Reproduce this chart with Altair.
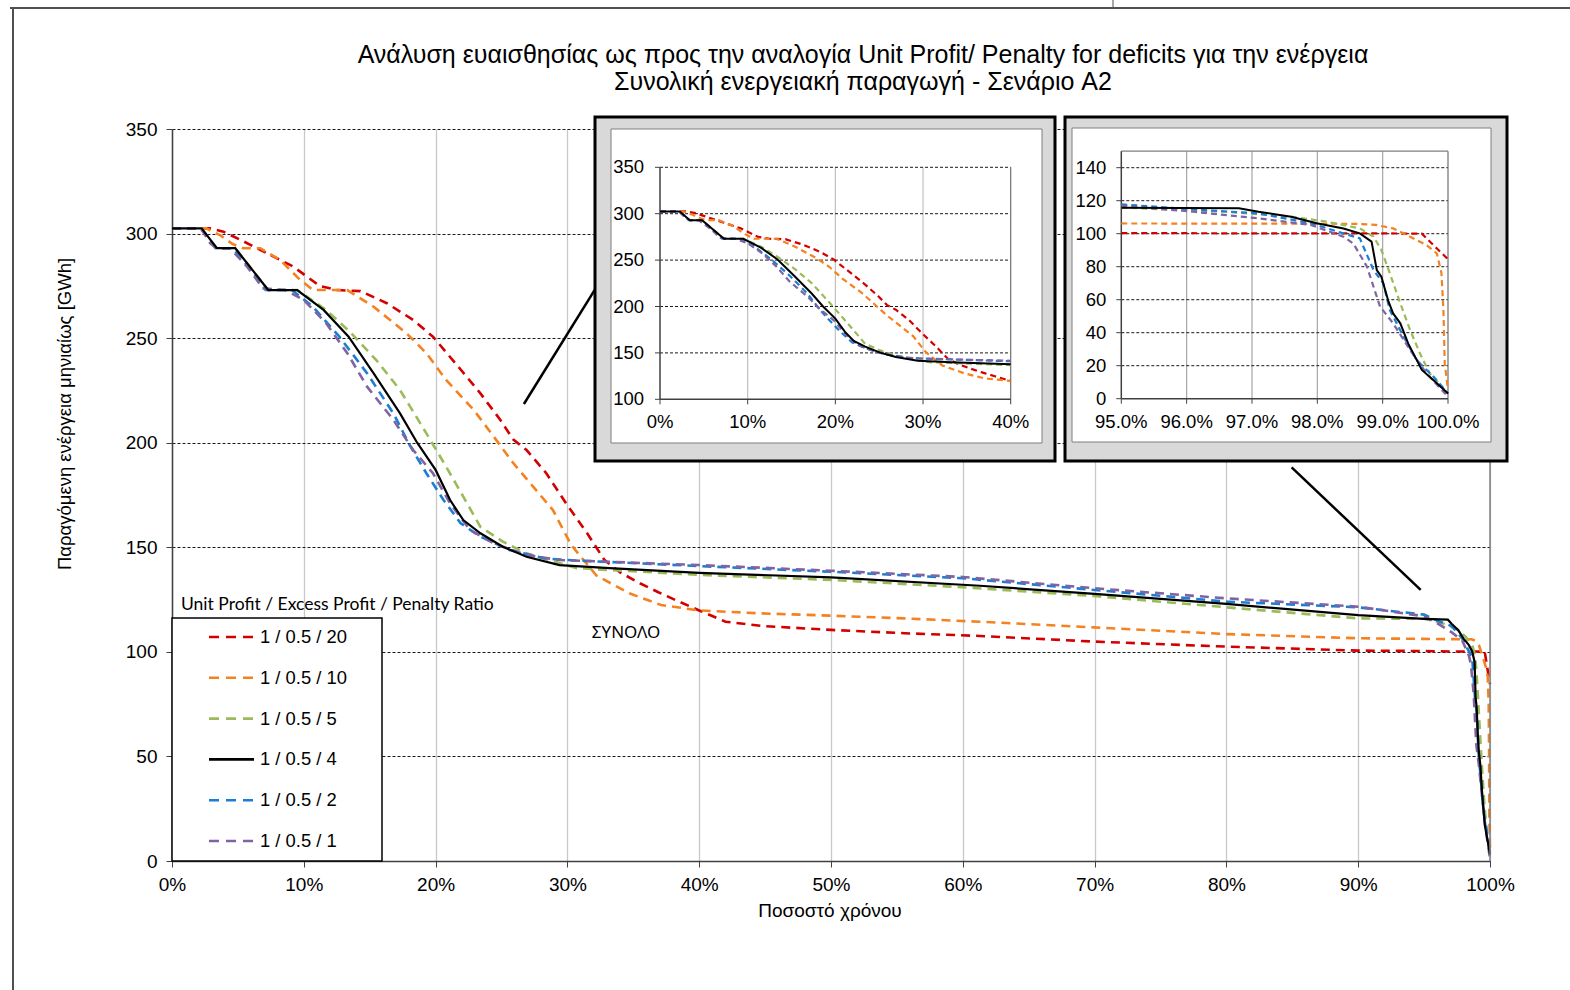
import altair as alt
import pandas as pd

# ---------------- data ----------------
SERIES = ["1 / 0.5 / 20", "1 / 0.5 / 10", "1 / 0.5 / 5", "1 / 0.5 / 4", "1 / 0.5 / 2", "1 / 0.5 / 1"]
COLORS = ["#d40000", "#f58220", "#9bbb59", "#000000", "#1a7fd4", "#8064a2"]
SOLID = "1 / 0.5 / 4"
DRAW_ORDER = [0, 1, 2, 4, 5, 3]

X_20 = [0, 2.9, 3.9, 5.2, 7.2, 9.2, 11.2, 12.5, 14.3, 16.3, 18.3, 19.8, 21.9, 23.4, 24.9, 25.9, 26.9, 28.4, 29.9, 31.5,
        32.8, 34.0, 35.5, 36.9, 38.2, 40, 42, 44.7, 50, 55.6, 61.3, 70, 80, 90, 95, 97, 99, 99.6, 99.83, 100]
Y_20 = [302.5, 302.5, 300.9, 297, 290.6, 284.2, 275, 273, 272.5, 266.7, 258.7, 250.7, 235, 223.6, 211, 201.5, 196.5, 185.4, 171, 156.7,
        144, 138, 132.8, 128.5, 124.8, 119.8, 114.4, 112.4, 110.5, 108.9, 107.6, 104.9, 102.5, 100.6, 100.4, 100.2, 100.2, 100.0, 91, 84.5]

X_10 = [0, 2.6, 3.7, 4.6, 5.4, 6.7, 8.2, 9.7, 10.7, 13.3, 15.3, 17.8, 19.3, 20.8, 22.9, 24.4, 25.9, 27.4, 28.9, 30.3,
        32.2, 34.7, 37.1, 40, 44.7, 50, 55.6, 61.3, 70, 80, 90, 95, 98.6, 98.9, 99.16, 99.42, 99.67, 99.83, 99.9, 99.93,
        99.95, 100]
Y_10 = [302.5, 302.5, 299, 295, 293, 293, 287.4, 278, 273, 273, 265, 252.3, 242.8, 230, 215.6, 203, 190.2, 179, 167.8, 151,
        136.5, 128, 122.4, 119.8, 118.4, 117.3, 116, 114.4, 111.7, 108.5, 106.5, 106.2, 106, 105.3, 103.2, 98.2, 93.1, 88, 76, 53.7,
        21.4, 5.3]

X_5 = [0, 2.2, 3.4, 4.8, 7.3, 9.5, 11.7, 13.5, 15.5, 17.3, 19.3, 20.8, 22.1, 23.4, 25.1, 26.9, 30.7, 40, 50, 60,
       70, 80, 90, 95, 96.6, 97.6, 98.14, 98.65, 98.86, 98.98, 99.11, 99.27, 99.42, 99.57, 99.72, 100]
Y_5 = [302.5, 302.5, 293, 293, 273, 273, 263.5, 253, 239.5, 225.2, 204.5, 188.5, 174.2, 159.8, 152.7, 147.1, 140, 136.8, 134.4, 130.9,
       126.7, 121.3, 116, 115.8, 113.3, 110.3, 107.3, 103.2, 98.2, 90.1, 76, 57.8, 41.6, 27.5, 15.4, 3.2]

X_4 = [0, 2.25, 3.4, 4.8, 7.3, 9.5, 11.5, 13.4, 15.3, 17.3, 18.6, 20.0, 21.1, 22.1, 23.4, 25.1, 26.9, 29.4, 33.2, 40,
       50, 61.3, 70, 80, 90, 95, 96.8, 97.1, 97.6, 97.99, 98.4, 98.65, 98.83, 98.91, 98.98, 99.09, 99.16, 99.27, 99.39, 99.6,
       99.83, 100]
Y_4 = [302.5, 302.5, 293, 293, 273, 273, 263.5, 250.7, 233.2, 214, 200, 187, 172.6, 163, 156.7, 150.3, 145.5, 141.5, 140, 137.8,
       135.6, 131.6, 127.7, 122.9, 117.6, 115.8, 115.4, 113.3, 110.3, 106.3, 103.2, 100.2, 95.2, 78, 73.9, 58.8, 51.7, 45.7, 33.5, 17.4,
       9.3, 3.2]

X_2 = [0, 2.2, 3.3, 4.6, 6.4, 7.1, 9.1, 10.7, 12.7, 14.8, 16.8, 18.1, 19.3, 20.6, 21.9, 23.4, 25.6, 28.3, 30, 40,
       50, 60, 70, 80, 90, 95, 96.1, 97.1, 97.9, 98.4, 98.65, 98.86, 99.01, 99.11, 99.32, 99.52, 99.78, 100]
Y_2 = [302.5, 302.5, 293, 293, 279.4, 273, 273, 265, 250.7, 233.2, 214, 198.1, 185.4, 172.6, 161.5, 155.1, 148.7, 144.7, 143.9, 141,
       138.3, 135.2, 129.6, 124, 121.3, 117.8, 114.7, 112.3, 106.3, 100.2, 97.2, 78, 69.9, 53.7, 37.6, 23.4, 13.3, 3.2]

X_1 = [0, 2.2, 2.9, 3.4, 4.4, 5.7, 6.9, 8.6, 10, 11.7, 13.3, 14.8, 16.8, 18.3, 19.8, 21.1, 22.6, 24.4, 26.9, 29.4,
       40, 50, 60, 70, 80, 90, 95, 96.1, 97.1, 97.9, 98.4, 98.55, 98.76, 98.96, 99.16, 99.42, 99.67, 100]
Y_1 = [302.5, 302.5, 295.3, 293, 293, 284.2, 273.8, 273, 268.2, 257.1, 242.8, 226.8, 210.9, 196.5, 185.4, 171, 158.3, 151.9, 146.3, 143.9,
       141.5, 138.8, 135.8, 130.4, 125.6, 121.6, 117, 113.3, 109.3, 105.3, 98.2, 94.1, 80, 55.8, 45.7, 29.5, 15.4, 1.2]

XS = [X_20, X_10, X_5, X_4, X_2, X_1]
YS = [Y_20, Y_10, Y_5, Y_4, Y_2, Y_1]

MAIN_XDOM = [0, 100]
MAIN_YDOM = [0, 350]
MAIN_XTICKS = [0, 10, 20, 30, 40, 50, 60, 70, 80, 90, 100]
MAIN_YTICKS = [0, 50, 100, 150, 200, 250, 300, 350]

I1_XDOM = [0, 40]
I1_YDOM = [100, 350]
I1_XTICKS = [0, 10, 20, 30, 40]
I1_XLABELS = ["0%", "10%", "20%", "30%", "40%"]
I1_YTICKS = [100, 150, 200, 250, 300, 350]

I2_XDOM = [95, 100]
I2_YDOM = [0, 150]
I2_XTICKS = [95, 96, 97, 98, 99, 100]
I2_XLABELS = ["95.0%", "96.0%", "97.0%", "98.0%", "99.0%", "100.0%"]
I2_YTICKS = [0, 20, 40, 60, 80, 100, 120, 140]

# connector lines (main data units) and annotation
CONN_X1 = [26.7, 84.95]
CONN_Y1 = [218.5, 188.2]
CONN_X2 = [32.25, 94.74]
CONN_Y2 = [274.9, 129.6]
NOTE_X, NOTE_Y, NOTE_TEXT = [34.45], [109], ["ΣΥΝΟΛΟ"]

TITLE_1 = "Ανάλυση ευαισθησίας ως προς την αναλογία Unit Profit/ Penalty for deficits για την ενέργεια"
TITLE_2 = "Συνολική ενεργειακή παραγωγή - Σενάριο A2"
X_TITLE = "Ποσοστό χρόνου"
Y_TITLE = "Παραγόμενη ενέργεια μηνιαίως [GWh]"
LEGEND_TITLE = "Unit Profit / Excess Profit / Penalty Ratio"

# ---------------- layout ----------------
W, H = 1318, 732
PAD_L, PAD_T = 172, 129
FONT = "Liberation Sans"

MX = alt.Scale(domain=MAIN_XDOM, range=[0, W], nice=False, zero=False)
MY = alt.Scale(domain=MAIN_YDOM, range=[H, 0], nice=False, zero=False)

I1_L, I1_R, I1_T, I1_B = 488, 838.7, 38.3, 270.3
I1X = alt.Scale(domain=I1_XDOM, range=[I1_L, I1_R], nice=False, zero=False)
I1Y = alt.Scale(domain=I1_YDOM, range=[I1_B, I1_T], nice=False, zero=False)

I2_L, I2_R, I2_T, I2_B = 949.3, 1276, 22.2, 269.7
I2X = alt.Scale(domain=I2_XDOM, range=[I2_L, I2_R], nice=False, zero=False)
I2Y = alt.Scale(domain=I2_YDOM, range=[I2_B, I2_T], nice=False, zero=False)

rows = []
for name, xs, ys in zip(SERIES, XS, YS):
    for x, y in zip(xs, ys):
        rows.append({"s": name, "x": x, "y": y})
df = pd.DataFrame(rows)

one = alt.Data(values=[{}])


def curves(xs, ys, width_d, width_s, dash, filt=None, axes=None):
    out = []
    for i, k in enumerate(DRAW_ORDER):
        name = SERIES[k]
        base = alt.Chart(df).transform_filter(alt.datum.s == name)
        if filt is not None:
            base = base.transform_filter(filt)
        if name == SOLID:
            m = base.mark_line(color=COLORS[k], strokeWidth=width_s)
        else:
            m = base.mark_line(color=COLORS[k], strokeWidth=width_d, strokeDash=dash, strokeCap="butt")
        ax = axes if (axes is not None and i == 0) else (None, None)
        out.append(m.encode(
            x=alt.X("x:Q", scale=xs, axis=ax[0]),
            y=alt.Y("y:Q", scale=ys, axis=ax[1]),
        ))
    return out


def rules_h(values, lo, hi, xs, ys, **kw):
    d = pd.DataFrame({"v": values, "lo": lo, "hi": hi})
    return alt.Chart(d).mark_rule(**kw).encode(
        y=alt.Y("v:Q", scale=ys, axis=None),
        x=alt.X("lo:Q", scale=xs, axis=None), x2="hi:Q")


def rules_v(values, lo, hi, xs, ys, **kw):
    d = pd.DataFrame({"v": values, "lo": lo, "hi": hi})
    return alt.Chart(d).mark_rule(**kw).encode(
        x=alt.X("v:Q", scale=xs, axis=None),
        y=alt.Y("lo:Q", scale=ys, axis=None), y2="hi:Q")


xaxis = alt.Axis(values=MAIN_XTICKS, labelExpr="datum.value + '%'", title=None, grid=True,
                 gridColor="#c8c8c8", gridWidth=1.3, domainColor="#404040", domainWidth=1.5,
                 tickColor="#404040", tickSize=6, labelFont=FONT, labelFontSize=19,
                 labelColor="#000000", labelPadding=8, labelFlush=False, labelOverlap=False)
yaxis = alt.Axis(values=MAIN_YTICKS, title=None, grid=True, gridColor="#1a1a1a", gridDash=[3, 2],
                 gridWidth=1, domainColor="#404040", domainWidth=1.5, tickColor="#404040", tickSize=6,
                 labelFont=FONT, labelFontSize=19, labelColor="#000000", labelPadding=9,
                 labelFlush=False, labelOverlap=False)

layers = []

# page frame
layers.append(alt.Chart(one).mark_rule(color="#505050", strokeWidth=2).encode(
    x=alt.value(-162), x2=alt.value(1400), y=alt.value(-121)))
layers.append(alt.Chart(one).mark_rule(color="#505050", strokeWidth=2).encode(
    x=alt.value(-159), y=alt.value(-121), y2=alt.value(H + 140)))
layers.append(alt.Chart(one).mark_rule(color="#505050", strokeWidth=1).encode(
    x=alt.value(941), y=alt.value(-129), y2=alt.value(-122)))

# main curves (first carries the axes)
layers += curves(MX, MY, 2.6, 2.2, [9, 6], axes=(xaxis, yaxis))
# right edge of plot
layers.append(rules_v([MAIN_XDOM[1]], MAIN_YDOM[0], MAIN_YDOM[1], MX, MY, color="#7f7f7f", strokeWidth=1.5))

# connectors
conn = pd.DataFrame({"x1": CONN_X1, "y1": CONN_Y1, "x2": CONN_X2, "y2": CONN_Y2})
layers.append(alt.Chart(conn).mark_rule(color="#000000", strokeWidth=2.5).encode(
    x=alt.X("x1:Q", scale=MX, axis=None), y=alt.Y("y1:Q", scale=MY, axis=None), x2="x2:Q", y2="y2:Q"))

# note
note = pd.DataFrame({"x": NOTE_X, "y": NOTE_Y, "t": NOTE_TEXT})
layers.append(alt.Chart(note).mark_text(font="Noto Sans", fontSize=17, color="#000000").encode(
    x=alt.X("x:Q", scale=MX, axis=None), y=alt.Y("y:Q", scale=MY, axis=None), text="t:N"))


def inset(L, R, T, B, OX0, OX1, OY0, OY1, IX0, IX1, IY0, IY1, xs, ys, xdom, ydom, xticks, xlabels, yticks,
          hgrid, vgrid, vcolor, topline, filt, ylab_dx):
    out = []
    out.append(alt.Chart(one).mark_rect(fill="#d9d9d9", stroke="#000000", strokeWidth=3).encode(
        x=alt.value(OX0), x2=alt.value(OX1), y=alt.value(OY0), y2=alt.value(OY1)))
    out.append(alt.Chart(one).mark_rect(fill="#ffffff", stroke="#7f7f7f", strokeWidth=1).encode(
        x=alt.value(IX0), x2=alt.value(IX1), y=alt.value(IY0), y2=alt.value(IY1)))
    out.append(rules_v(vgrid, ydom[0], ydom[1], xs, ys, color=vcolor, strokeWidth=1.2))
    out.append(rules_h(hgrid, xdom[0], xdom[1], xs, ys, color="#1a1a1a", strokeWidth=1, strokeDash=[3, 2]))
    if topline:
        out.append(rules_h([ydom[1]], xdom[0], xdom[1], xs, ys, color="#7f7f7f", strokeWidth=1.2))
    out.append(rules_v([xdom[1]], ydom[0], ydom[1], xs, ys, color="#6f6f6f", strokeWidth=1.2))
    out.append(rules_v([xdom[0]], ydom[0], ydom[1], xs, ys, color="#404040", strokeWidth=1.5))
    out.append(rules_h([ydom[0]], xdom[0], xdom[1], xs, ys, color="#404040", strokeWidth=1.5))
    # ticks
    dt = pd.DataFrame({"v": yticks, "lo": xdom[0]})
    out.append(alt.Chart(dt).mark_rule(color="#404040", strokeWidth=1).encode(
        y=alt.Y("v:Q", scale=ys, axis=None), x=alt.X("lo:Q", scale=xs, axis=None), x2=alt.value(L - 5)))
    out.append(alt.Chart(dt).mark_text(font=FONT, fontSize=18.5, align="right", baseline="middle", dx=ylab_dx,
                                       color="#000000").encode(
        y=alt.Y("v:Q", scale=ys, axis=None), x=alt.X("lo:Q", scale=xs, axis=None), text="v:Q"))
    dx_ = pd.DataFrame({"v": xticks, "lab": xlabels, "lo": ydom[0]})
    out.append(alt.Chart(dx_).mark_rule(color="#404040", strokeWidth=1).encode(
        x=alt.X("v:Q", scale=xs, axis=None), y=alt.Y("lo:Q", scale=ys, axis=None), y2=alt.value(B + 5)))
    out.append(alt.Chart(dx_).mark_text(font=FONT, fontSize=18.5, align="center", baseline="middle", dy=23,
                                        color="#000000").encode(
        x=alt.X("v:Q", scale=xs, axis=None), y=alt.Y("lo:Q", scale=ys, axis=None), text="lab:N"))
    out += curves(xs, ys, 2.2, 2.0, [6, 4], filt=filt)
    return out


layers += inset(I1_L, I1_R, I1_T, I1_B, 423, 883, -12, 332, 439, 870, 0, 314, I1X, I1Y, I1_XDOM, I1_YDOM,
                I1_XTICKS, I1_XLABELS, I1_YTICKS, I1_YTICKS[1:], I1_XTICKS[1:-1], "#c0c0c0", False,
                alt.datum.x <= I1_XDOM[1], -16)
layers += inset(I2_L, I2_R, I2_T, I2_B, 893, 1335, -12, 332, 900, 1319, -1, 313, I2X, I2Y, I2_XDOM, I2_YDOM,
                I2_XTICKS, I2_XLABELS, I2_YTICKS, I2_YTICKS[1:], I2_XTICKS[1:-1], "#a6a6a6", True,
                alt.datum.x >= I2_XDOM[0], -15)

# legend
layers.append(alt.Chart(one).mark_text(font="Lato", fontSize=17.5, align="left", baseline="middle",
                                       color="#000000", text=LEGEND_TITLE).encode(
    x=alt.value(9), y=alt.value(476)))
layers.append(alt.Chart(one).mark_rect(fill="#ffffff", stroke="#000000", strokeWidth=1.5).encode(
    x=alt.value(0), x2=alt.value(210), y=alt.value(489), y2=alt.value(H)))
leg = pd.DataFrame({"s": SERIES})
LEG_Y = alt.Scale(type="point", domain=SERIES, range=[508, 712], padding=0)
DASHES = [[10, 7] if s != SOLID else [1, 0] for s in SERIES]
layers.append(alt.Chart(leg).mark_rule(strokeWidth=2.6, strokeCap="butt").encode(
    y=alt.Y("s:N", scale=LEG_Y, axis=None), x=alt.value(37), x2=alt.value(82),
    color=alt.Color("s:N", scale=alt.Scale(domain=SERIES, range=COLORS), legend=None),
    strokeDash=alt.StrokeDash("s:N", scale=alt.Scale(domain=SERIES, range=DASHES), legend=None)))
layers.append(alt.Chart(leg).mark_text(font=FONT, fontSize=18.4, align="left", baseline="middle",
                                       color="#000000").encode(
    y=alt.Y("s:N", scale=LEG_Y, axis=None), x=alt.value(88), text="s:N"))

# titles
layers.append(alt.Chart(one).mark_text(font=FONT, fontSize=25, align="center", baseline="middle",
                                       color="#000000", text=TITLE_1).encode(x=alt.value(691), y=alt.value(-74)))
layers.append(alt.Chart(one).mark_text(font=FONT, fontSize=25, align="center", baseline="middle",
                                       color="#000000", text=TITLE_2).encode(x=alt.value(691), y=alt.value(-47)))
layers.append(alt.Chart(one).mark_text(font=FONT, fontSize=19, align="center", baseline="middle",
                                       color="#000000", text=X_TITLE).encode(x=alt.value(658), y=alt.value(782)))
layers.append(alt.Chart(one).mark_text(font=FONT, fontSize=18.5, align="center", baseline="middle", angle=270,
                                       color="#000000", text=Y_TITLE).encode(x=alt.value(-107), y=alt.value(285)))

chart = alt.layer(*layers).resolve_scale(x="independent", y="independent").properties(
    width=W, height=H,
    autosize=alt.AutoSizeParams(type="none"),
    padding={"left": PAD_L, "top": PAD_T, "right": 1570 - PAD_L - W, "bottom": 990 - PAD_T - H},
    background="#ffffff",
).configure_view(strokeWidth=0)

chart.save("out.html", embed_options={"renderer": "svg", "actions": False})
